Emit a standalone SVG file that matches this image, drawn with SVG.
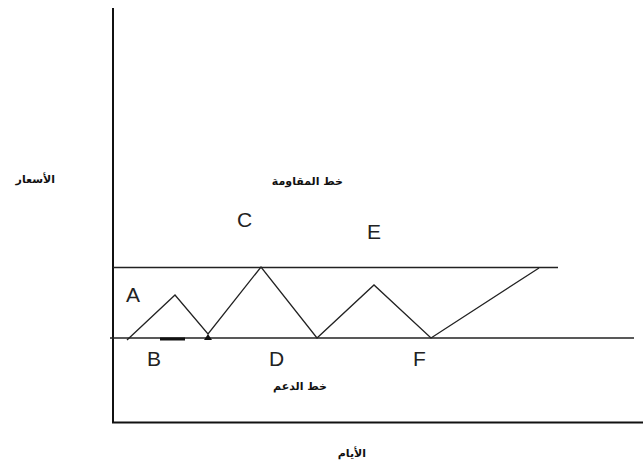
<svg xmlns="http://www.w3.org/2000/svg" width="643" height="468" viewBox="0 0 643 468">
<style>
.ax{stroke:#111;stroke-width:2;fill:none}
.ln{stroke:#222;stroke-width:1.6;fill:none}
.zz{stroke:#222;stroke-width:1.3;fill:none;stroke-linejoin:miter}
.lbl{font-family:"Liberation Sans",Arial,sans-serif;font-size:21px;fill:#222}
.ar{font-family:"DejaVu Sans","Noto Sans",sans-serif;font-size:11px;font-weight:bold;fill:#111}
</style>
<rect width="643" height="468" fill="#fff"/>
<g id="axes">
<line class="ax" x1="113" y1="8" x2="113" y2="423"/>
<line class="ax" x1="112" y1="422.5" x2="643" y2="422.5"/>
</g>
<g id="resistance-line">
<line class="ln" x1="113" y1="267.5" x2="558" y2="267.5"/>
</g>
<g id="support-line">
<line class="ln" x1="110" y1="338" x2="634" y2="338"/>
<line stroke="#111" stroke-width="3" x1="160" y1="339" x2="185" y2="339"/>
<path d="M204 340 L208 334 L212 340 Z" fill="#111"/>
</g>
<g id="connectors">
<polyline class="zz" points="127,340 175,295 208,334 261,267 317,338 374,285 431,338 539,268"/>
</g>
<g id="labels">
<text class="lbl" x="126" y="302">A</text>
<text class="lbl" x="147" y="366">B</text>
<text class="lbl" x="237" y="227">C</text>
<text class="lbl" x="269" y="366">D</text>
<text class="lbl" x="367" y="239">E</text>
<text class="lbl" x="413" y="366">F</text>
</g>
<g id="arabic">
<text class="ar" x="55" y="183" direction="rtl">الأسعار</text>
<text class="ar" x="343" y="185" direction="rtl">خط المقاومة</text>
<text class="ar" x="327" y="390" direction="rtl">خط الدعم</text>
<text class="ar" x="366" y="457" direction="rtl">الأيام</text>
</g>
</svg>
